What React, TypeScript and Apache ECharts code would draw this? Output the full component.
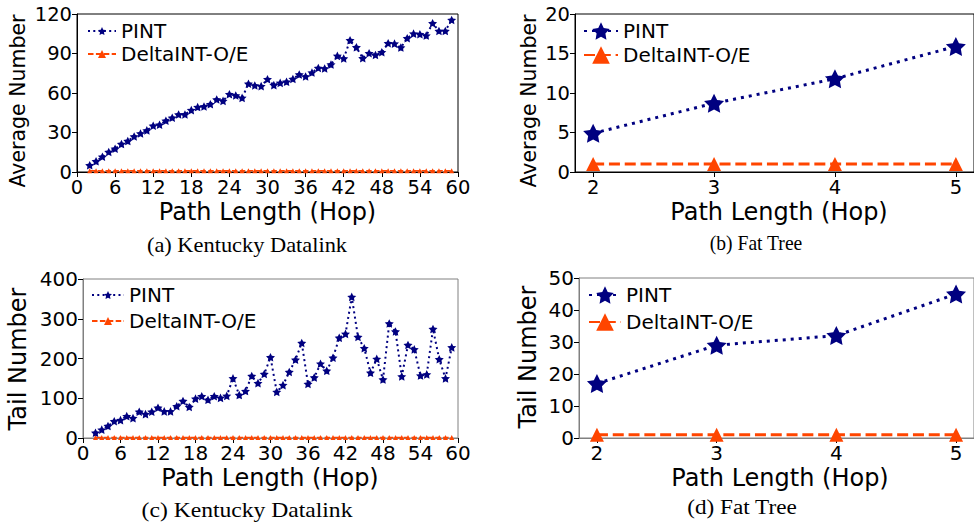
import React, { useEffect, useRef } from "react";
import * as echarts from "echarts";

// ---------- data ----------
const hopsKentucky = [2, 3, 4, 5, 6, 7, 8, 9, 10, 11, 12, 13, 14, 15, 16, 17, 18, 19, 20, 21, 22, 23, 24, 25, 26, 27, 28, 29, 30, 31, 32, 33, 34, 35, 36, 37, 38, 39, 40, 41, 42, 43, 44, 45, 46, 47, 48, 49, 50, 51, 52, 53, 54, 55, 56, 57, 58, 59];
const avgPintKentucky = [5.1, 8.1, 11.6, 15.2, 17.7, 21.2, 23.5, 27, 29.3, 31.6, 35.1, 35.9, 38.9, 41.2, 43.7, 43.7, 47, 49.3, 49.8, 51.5, 55.1, 54, 59.1, 58.1, 56.3, 67, 65.7, 65.2, 70.5, 66, 67.7, 68.5, 70.7, 74, 72.5, 75.5, 79, 78.6, 81.6, 88.2, 86.2, 100, 94.7, 86.4, 90.2, 88.9, 91, 97.8, 97.5, 94.5, 101.6, 105.1, 104.6, 103.6, 113, 107.1, 107.1, 115.5];
const avgDeltaKentucky = [1, 1, 1, 1, 1, 1, 1, 1, 1, 1, 1, 1, 1, 1, 1, 1, 1, 1, 1, 1, 1, 1, 1, 1, 1, 1, 1, 1, 1, 1, 1, 1, 1, 1, 1, 1, 1, 1, 1, 1, 1, 1, 1, 1, 1, 1, 1, 1, 1, 1, 1, 1, 1, 1, 1, 1, 1, 1];
const tailPintKentucky = [13, 21, 30, 42, 45, 55, 50, 66, 60, 66, 76, 67, 67, 80, 93, 78, 99, 105, 96, 105, 101, 106, 150, 108, 118, 156, 138, 161, 203, 116, 133, 166, 197, 239, 136, 152, 187, 169, 202, 252, 262, 355, 254, 226, 164, 199, 147, 288, 268, 155, 234, 223, 157, 160, 274, 198, 150, 228];
const tailDeltaKentucky = [1, 1, 1, 1, 1, 1, 1, 1, 1, 1, 1, 1, 1, 1, 1, 1, 1, 1, 1, 1, 1, 1, 1, 1, 1, 1, 1, 1, 1, 1, 1, 1, 1, 1, 1, 1, 1, 1, 1, 1, 1, 1, 1, 1, 1, 1, 1, 1, 1, 1, 1, 1, 1, 1, 1, 1, 1, 1];

const hopsFatTree = [2, 3, 4, 5];
const avgPintFatTree = [4.9, 8.7, 11.8, 15.9];
const avgDeltaFatTree = [1, 1, 1, 1];
const tailPintFatTree = [17, 29, 32, 45];
const tailDeltaFatTree = [1, 1, 1, 1];

const kentuckyXTicks = [0, 6, 12, 18, 24, 30, 36, 42, 48, 54, 60];
const fatTreeXTicks = [2, 3, 4, 5];

const seriesNames = ["PINT", "DeltaINT-O/E"];
const captions = ["(a) Kentucky Datalink", "(b) Fat Tree", "(c) Kentucky Datalink", "(d) Fat Tree"];
const yLabels = ["Average Number", "Average Number", "Tail Number", "Tail Number"];
const xLabel = "Path Length (Hop)";

// ---------- style ----------
const NAVY = "#000080";
const ORANGE = "#FF4500";
const FONT = "DejaVu Sans";
const SERIF = "Liberation Serif";
const STAR =
  "path://M0,-10L2.939,-4.045L9.511,-3.09L4.755,1.545L5.878,8.09L0,5L-5.878,8.09L-4.755,1.545L-9.511,-3.09L-2.939,-4.045Z";

const pairs = (xs: number[], ys: number[]) => xs.map((x, i) => [x, ys[i]]);

function xAxisCfg(gridIndex: number, fat: boolean, lineColor: string, fs: number) {
  const base: any = {
    type: "value",
    gridIndex,
    splitLine: { show: false },
    axisLine: { show: true, onZero: false, lineStyle: { color: lineColor, width: 1 } },
    axisTick: { show: true, inside: false, length: 5, lineStyle: { color: "#000", width: 1 } },
    axisLabel: { fontSize: fs, color: "#000", fontFamily: FONT, margin: 5 },
  };
  if (fat) {
    base.min = 1.85;
    base.max = 5.15;
    base.axisLabel.customValues = fatTreeXTicks;
    base.axisTick.customValues = fatTreeXTicks;
  } else {
    base.min = kentuckyXTicks[0];
    base.max = kentuckyXTicks[kentuckyXTicks.length - 1];
    base.interval = 6;
  }
  return base;
}

function yAxisCfg(gridIndex: number, max: number, interval: number, lineColor: string, fs: number) {
  return {
    type: "value",
    gridIndex,
    min: 0,
    max,
    interval,
    splitLine: { show: false },
    axisLine: { show: true, lineStyle: { color: lineColor, width: 1 } },
    axisTick: { show: true, inside: false, length: 5, lineStyle: { color: "#000", width: 1 } },
    axisLabel: { fontSize: fs, color: "#000", fontFamily: FONT, margin: 5 },
  };
}

function lineSeries(name: string, idx: number, data: number[][], big: boolean, pint: boolean) {
  return {
    type: "line",
    name,
    xAxisIndex: idx,
    yAxisIndex: idx,
    data,
    symbol: pint ? STAR : "triangle",
    symbolKeepAspect: true,
    symbolSize: pint ? (big ? 20 : 9) : big ? 14 : 5,
    showSymbol: true,
    clip: false,
    itemStyle: { color: pint ? NAVY : ORANGE },
    lineStyle: {
      color: pint ? NAVY : ORANGE,
      width: big ? 3 : pint ? 2 : 1.5,
      type: pint ? (big ? [3, 5] : [2, 3.3]) : big ? [11, 4.8] : [5.5, 2.4],
      cap: "butt",
    },
    z: pint ? 3 : 2,
  };
}

function legendCfg(suffix: string, left: number, top: number, itemWidth: number, itemHeight: number, gap: number, lh: number) {
  return {
    data: seriesNames.map((n) => n + suffix),
    orient: "vertical",
    left,
    top,
    padding: 0,
    itemWidth,
    itemHeight,
    itemGap: gap,
    formatter: (n: string) => n.split("#")[0],
    textStyle: { fontSize: 20, color: "#000", fontFamily: FONT, lineHeight: lh },
    selectedMode: false,
  };
}

function textEl(text: string, x: number, y: number, size: number, family: string, rotate = false, sx = 1) {
  return {
    type: "text",
    x,
    y,
    scaleX: sx,
    rotation: rotate ? Math.PI / 2 : 0,
    style: {
      text,
      fontSize: size,
      fontFamily: family,
      fill: "#000",
      textAlign: "center",
      textVerticalAlign: "middle",
    },
  };
}

export default function App() {
  const ref = useRef<HTMLDivElement>(null);
  useEffect(() => {
    if (!ref.current) return;
    const chart = echarts.init(ref.current, null, { renderer: "svg" });
    const BLACK = "#000";
    const GRAY = "#808080";
    chart.setOption({
      animation: false,
      backgroundColor: "#fff",
      grid: [
        { left: 77, top: 14, width: 381, height: 158, show: true, borderColor: BLACK, borderWidth: 1 },
        { left: 575, top: 14, width: 406, height: 158, show: true, borderColor: BLACK, borderWidth: 1 },
        { left: 83, top: 279, width: 375, height: 159, show: true, borderColor: GRAY, borderWidth: 1 },
        { left: 579, top: 278, width: 402, height: 160, show: true, borderColor: GRAY, borderWidth: 1 },
      ],
      xAxis: [
        xAxisCfg(0, false, BLACK, 19.5),
        xAxisCfg(1, true, BLACK, 19.5),
        xAxisCfg(2, false, GRAY, 20),
        xAxisCfg(3, true, GRAY, 20),
      ],
      yAxis: [
        yAxisCfg(0, 120, 30, BLACK, 19.5),
        yAxisCfg(1, 20, 5, BLACK, 19.5),
        yAxisCfg(2, 400, 100, GRAY, 20),
        yAxisCfg(3, 50, 10, GRAY, 20),
      ],
      legend: [
        legendCfg("#a", 87, 21, 28, 10, 3, 20),
        legendCfg("#b", 583, 20, 34, 22, 2, 22),
        legendCfg("#c", 91, 285, 32, 10, 6, 20),
        legendCfg("#d", 588, 284, 32, 22, 5, 22),
      ],
      series: [
        lineSeries("PINT#a", 0, pairs(hopsKentucky, avgPintKentucky), false, true),
        lineSeries("DeltaINT-O/E#a", 0, pairs(hopsKentucky, avgDeltaKentucky), false, false),
        lineSeries("PINT#b", 1, pairs(hopsFatTree, avgPintFatTree), true, true),
        lineSeries("DeltaINT-O/E#b", 1, pairs(hopsFatTree, avgDeltaFatTree), true, false),
        lineSeries("PINT#c", 2, pairs(hopsKentucky, tailPintKentucky), false, true),
        lineSeries("DeltaINT-O/E#c", 2, pairs(hopsKentucky, tailDeltaKentucky), false, false),
        lineSeries("PINT#d", 3, pairs(hopsFatTree, tailPintFatTree), true, true),
        lineSeries("DeltaINT-O/E#d", 3, pairs(hopsFatTree, tailDeltaFatTree), true, false),
      ],
      graphic: [
        textEl(yLabels[0], 17.5, 101, 20.5, FONT, true),
        textEl(yLabels[1], 528.5, 101, 20.5, FONT, true),
        textEl(yLabels[2], 18, 359, 24, FONT, true),
        textEl(yLabels[3], 528, 357, 24, FONT, true),
        textEl(xLabel, 267.5, 212, 24, FONT),
        textEl(xLabel, 779, 212, 24, FONT),
        textEl(xLabel, 270, 478, 24, FONT),
        textEl(xLabel, 780, 478, 24, FONT),
        textEl(captions[0], 247, 245, 20, SERIF, false, 1.12),
        textEl(captions[1], 756, 243, 20, SERIF, false, 0.98),
        textEl(captions[2], 247, 511, 20, SERIF, false, 1.18),
        textEl(captions[3], 742, 508, 20, SERIF, false, 1.16),
      ],
    });
    return () => chart.dispose();
  }, []);
  return (
    <div
      ref={ref}
      style={{ position: "fixed", left: 0, top: 0, width: 974, height: 527 }}
    />
  );
}
